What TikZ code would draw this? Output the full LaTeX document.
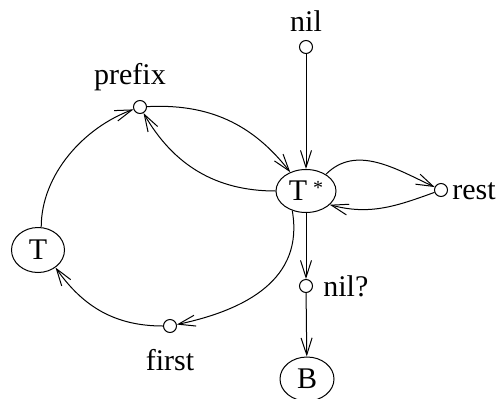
\documentclass[tikz,border=0pt]{standalone}
\usepackage{fontspec}
\setmainfont{Liberation Serif}
\usetikzlibrary{arrows.meta,shapes.geometric}
\begin{document}
\begin{tikzpicture}[x=0.5pt,y=0.5pt,
  every node/.style={font=\fontsize{15}{17}\selectfont},
  state/.style={draw,ellipse,inner sep=0pt,line width=0.5pt},
  port/.style={draw,circle,inner sep=0pt,minimum size=6.5pt,line width=0.5pt},
  tag/.style={inner sep=0pt},
  conn/.style={line width=0.5pt,-{Straight Barb[length=8.5pt,width=5.5pt,line width=0.5pt]}}]
\useasboundingbox (0,0) rectangle (503,398);

% states
\node[state,minimum width=30pt,minimum height=21.5pt] (ts) at (306,207)
  {T\hspace{3pt}\raisebox{0.45ex}{\fontsize{10}{10}\selectfont *}};
\node[state,minimum width=26.5pt,minimum height=22.5pt] (t) at (38,148) {T};
\node[state,minimum width=27pt,minimum height=22pt] (b) at (307,19) {B};

% ports
\node[port] (nil) at (306,351) {};
\node[port] (rest) at (441,208) {};
\node[port] (nilq) at (306,112) {};
\node[port] (prefix) at (140,291) {};
\node[port] (first) at (170,72) {};

% port labels
\node[tag] (lnil) at (306,377) {nil};
\node[tag,anchor=west] (lrest) at (452,207) {rest};
\node[tag,anchor=west] (lnilq) at (323,112) {nil?};
\node[tag] (lprefix) at (130,321) {prefix};
\node[tag] (lfirst) at (170,38) {first};

% straight connectors
\draw[conn] (nil) -- (ts);
\draw[conn] (ts) -- (nilq);
\draw[conn] (nilq) -- (b);

% loop through rest
\draw[conn] (ts.40) to[out=45,in=155] (rest);
\draw[conn] (rest) to[out=200,in=-15] (ts.-30);

% loop through prefix
\draw[conn] (prefix) to[out=3,in=128] (ts.130);
\draw[conn] (ts.west) to[out=180,in=-60] (prefix);
\draw[conn] (t.82) to[out=90,in=200,looseness=0.9] (prefix);

% loop through first
\draw[conn] (ts.235) to[out=-80,in=12,looseness=1.1] (first);
\draw[conn] (first) to[out=180,in=-55] (t.-45);
\end{tikzpicture}
\end{document}
